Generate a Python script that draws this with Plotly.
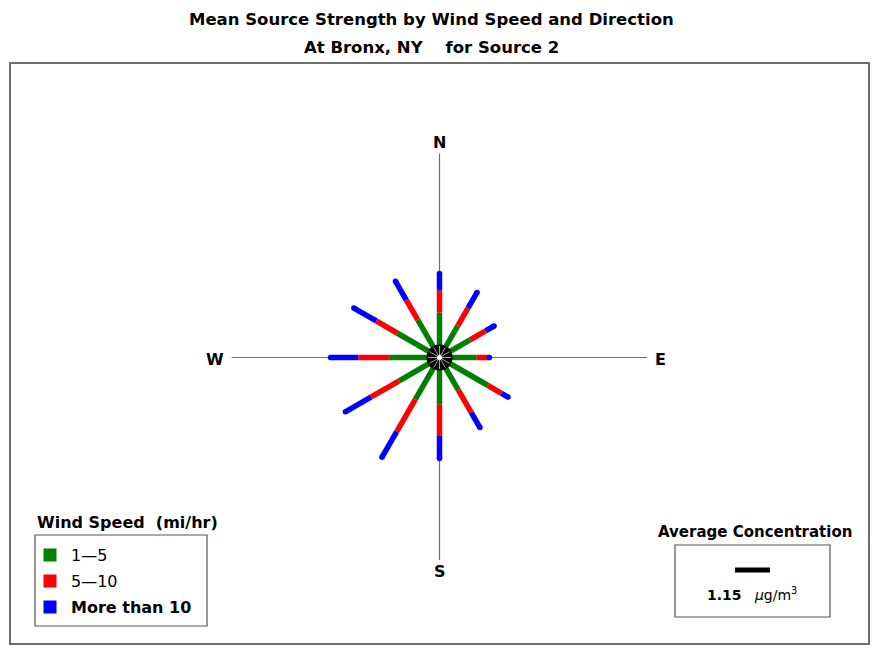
import numpy as np
import plotly.graph_objects as go

# ---------------- data ----------------
directions = [0, 30, 60, 90, 120, 150, 180, 210, 240, 270, 300, 330]  # deg, clockwise from N
speed_1_5 = [1.48, 1.21, 1.16, 1.22, 1.84, 1.24, 1.55, 1.59, 1.53, 1.63, 1.61, 1.43]
speed_5_10 = [0.72, 0.67, 0.59, 0.35, 0.51, 0.84, 1.01, 1.22, 1.06, 1.04, 0.79, 0.75]
speed_gt_10 = [0.56, 0.59, 0.32, 0.07, 0.25, 0.58, 0.76, 0.97, 0.98, 0.91, 0.85, 0.71]
band_labels = ["1\u20145", "5\u201410", "<b>More than 10</b>"]
band_colors = ["#008000", "#ff0000", "#0000ff"]
average_concentration = 1.15
compass_labels = ["N", "E", "S", "W"]

# ---------------- geometry ----------------
W, H = 872, 649
K = 35 / 1.15          # pixels per concentration unit
CX, CY = 439.5, 357.5  # rose centre in pixels
FONT = "DejaVu Sans"


def pp(x, y):
    """pixel -> paper coords (margins are zero)"""
    return x / W, 1 - y / H


theta = np.deg2rad(directions)
g = np.array(speed_1_5)
r = np.array(speed_5_10)
b = np.array(speed_gt_10)
cums = [np.zeros_like(g), g, g + r, g + r + b]

fig = go.Figure()

for i in range(3):
    xs, ys = [], []
    for j, t in enumerate(theta):
        r0, r1 = cums[i][j], cums[i + 1][j]
        xs += [r0 * np.sin(t), r1 * np.sin(t), None]
        ys += [r0 * np.cos(t), r1 * np.cos(t), None]
    fig.add_trace(go.Scatter(x=xs, y=ys, mode="lines",
                             line=dict(color=band_colors[i], width=5.5),
                             hoverinfo="skip", showlegend=False))

# round caps on outer ends
fig.add_trace(go.Scatter(x=cums[3] * np.sin(theta), y=cums[3] * np.cos(theta),
                         mode="markers", marker=dict(color=band_colors[2], size=5.5),
                         hoverinfo="skip", showlegend=False))

# average concentration scale bar (length = average concentration)
bx0 = (735 - CX) / K
by = (CY - 570) / K
fig.add_trace(go.Scatter(x=[bx0, bx0 + average_concentration], y=[by, by], mode="lines",
                         line=dict(color="black", width=5),
                         hoverinfo="skip", showlegend=False))

shapes = []
# frame
x0, y0 = pp(10, 63)
x1, y1 = pp(869, 644)
shapes.append(dict(type="rect", xref="paper", yref="paper", x0=x0, y0=y0, x1=x1, y1=y1,
                   line=dict(color="#6e6e6e", width=2), layer="below"))
# compass cross
for (dx, dy, L) in [(0, 1, 204), (1, 0, 207.5), (0, -1, 202.5), (-1, 0, 207.8)]:
    shapes.append(dict(type="line", xref="x", yref="y", x0=0, y0=0,
                       x1=dx * L / K, y1=dy * L / K,
                       line=dict(color="#707070", width=1.2), layer="below"))
# centre hub
rc = 13 / K
shapes.append(dict(type="circle", xref="x", yref="y", x0=-rc, y0=-rc, x1=rc, y1=rc,
                   fillcolor="black", line=dict(width=0), layer="above"))
for t in theta:
    shapes.append(dict(type="line", xref="x", yref="y", x0=0, y0=0,
                       x1=rc * 0.9 * np.sin(t), y1=rc * 0.9 * np.cos(t),
                       line=dict(color="rgba(255,255,255,0.8)", width=0.8), layer="above"))
rw = 2.5 / K
shapes.append(dict(type="circle", xref="x", yref="y", x0=-rw, y0=-rw, x1=rw, y1=rw,
                   fillcolor="white", line=dict(width=0), layer="above"))

# wind-speed legend box and swatches
x0, y0 = pp(35, 535)
x1, y1 = pp(207, 626)
shapes.append(dict(type="rect", xref="paper", yref="paper", x0=x0, y0=y0, x1=x1, y1=y1,
                   line=dict(color="#555555", width=1.2)))
sw_y = [555, 581, 607]
for c, yy in zip(band_colors, sw_y):
    a0, b0 = pp(43.5, yy - 6.5)
    a1, b1 = pp(56.5, yy + 6.5)
    shapes.append(dict(type="rect", xref="paper", yref="paper", x0=a0, y0=b1, x1=a1, y1=b0,
                       fillcolor=c, line=dict(width=0)))
# concentration legend box
x0, y0 = pp(675, 545)
x1, y1 = pp(830, 617)
shapes.append(dict(type="rect", xref="paper", yref="paper", x0=x0, y0=y0, x1=x1, y1=y1,
                   line=dict(color="#555555", width=1.2)))

annotations = []


def txt(text, x, y, size, xanchor="center", bold=True):
    px, py = pp(x, y)
    annotations.append(dict(text=f"<b>{text}</b>" if bold else text, x=px, y=py,
                            xref="paper", yref="paper", xanchor=xanchor, yanchor="middle",
                            showarrow=False, font=dict(family=FONT, size=size, color="black")))


txt("Mean Source Strength by Wind Speed and Direction", 431.5, 19.5, 16.5)
txt("At Bronx, NY\u00a0\u00a0\u00a0\u00a0for Source 2", 431, 47, 16.5)

compass_pos = {"N": (439.5, 142.5), "E": (660, 360), "S": (440, 571), "W": (215, 360)}
for lab in compass_labels:
    txt(lab, *compass_pos[lab], 16)

txt("Wind Speed\u00a0 (mi/hr)", 35, 522.5, 16, xanchor="left")
for lab, yy in zip(band_labels, sw_y):
    txt(lab, 69, yy, 16, xanchor="left", bold=False)

txt("Average Concentration", 755, 532, 15)
txt(f"<b>{average_concentration:.2f}</b>\u00a0\u00a0 <i>\u03bc</i>g/m<sup>3</sup>", 751.5, 594, 14,
    bold=False)

fig.update_layout(
    width=W, height=H,
    margin=dict(l=0, r=0, t=0, b=0),
    paper_bgcolor="white", plot_bgcolor="white",
    xaxis=dict(range=[-CX / K, (W - CX) / K], visible=False, fixedrange=True),
    yaxis=dict(range=[-(H - CY) / K, CY / K], visible=False, fixedrange=True),
    shapes=shapes, annotations=annotations, showlegend=False,
)

fig.write_html("out.html", config={"displayModeBar": False},
               post_script="document.body.style.margin='0';document.body.style.overflow='hidden';")
